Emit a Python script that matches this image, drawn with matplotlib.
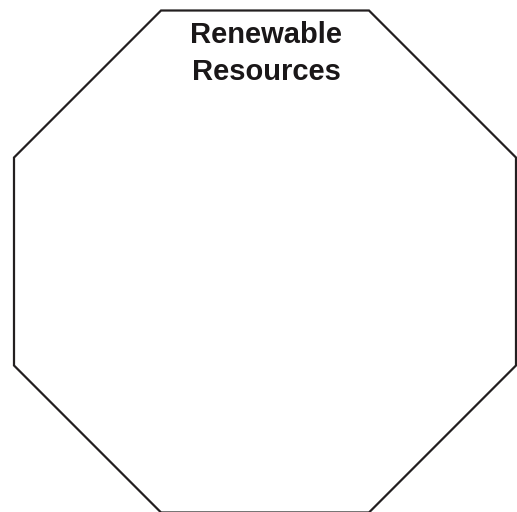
import numpy as np
import matplotlib
matplotlib.use('Agg')
import matplotlib.pyplot as plt
from matplotlib.patches import RegularPolygon

# chart content
label_lines = ['Renewable', 'Resources']
n_sides = 8

# figure in pixel coordinates
fig = plt.figure(figsize=(5.17, 5.12), dpi=100)
ax = fig.add_axes([0, 0, 1, 1])
ax.set_xlim(0, 517)
ax.set_ylim(512, 0)
ax.axis('off')

# octagon with flat top edge
apothem = 251
cx, cy = 265, 261.5
radius = apothem / np.cos(np.pi / n_sides)
octagon = RegularPolygon((cx, cy), numVertices=n_sides, radius=radius,
                         orientation=np.pi / n_sides, facecolor='white',
                         edgecolor='#231f20', linewidth=1.6)
ax.add_patch(octagon)

ax.text(cx + 1, 43, label_lines[0], ha='center', va='baseline',
        fontsize=21, fontweight='bold', family='Liberation Sans', color='#1a1718')
ax.text(cx + 1, 80, label_lines[1], ha='center', va='baseline',
        fontsize=21, fontweight='bold', family='Liberation Sans', color='#1a1718')

fig.savefig('out.png', dpi=100)
